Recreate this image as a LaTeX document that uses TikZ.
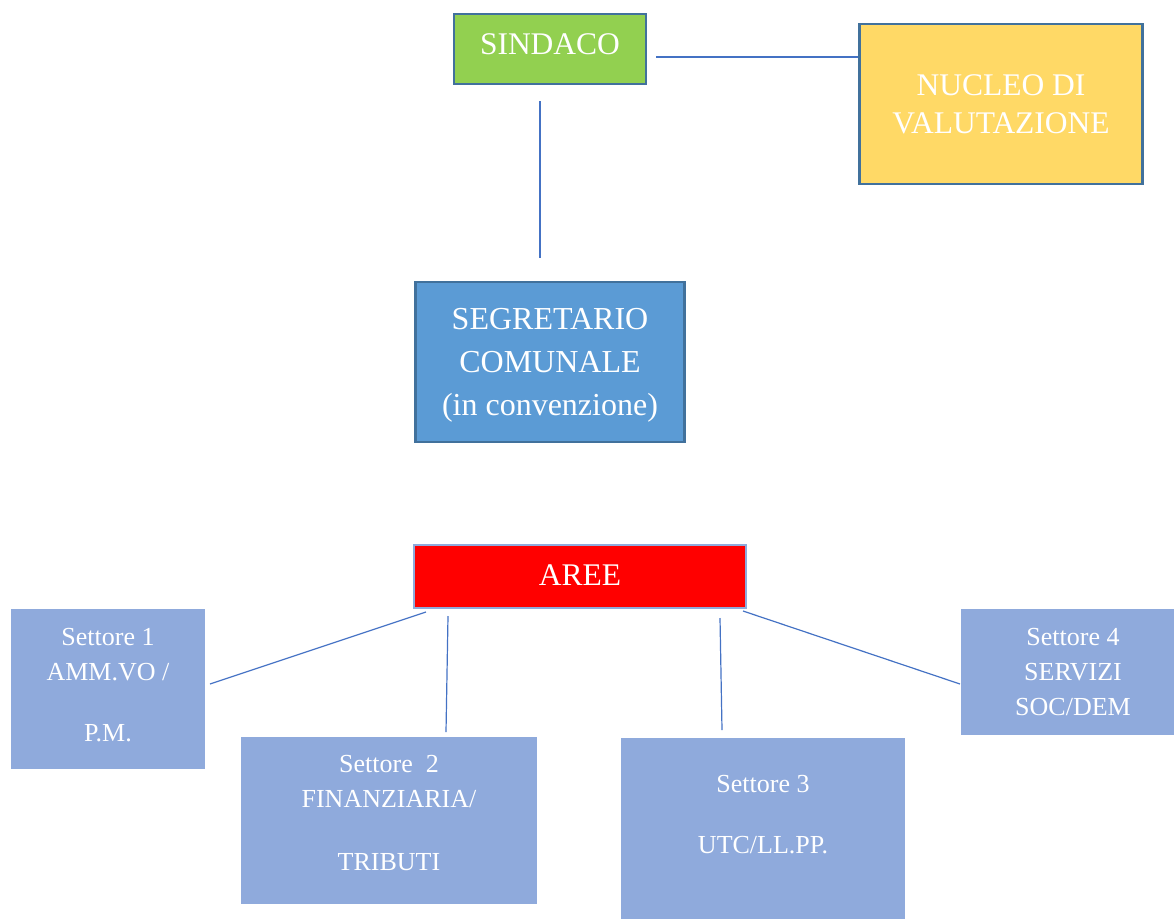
\documentclass[tikz,border=0pt]{standalone}
\usepackage{fontspec}
\setmainfont{Liberation Serif}
\usetikzlibrary{positioning}

\definecolor{bordo}{HTML}{41719C}
\definecolor{verde}{HTML}{92D050}
\definecolor{giallo}{HTML}{FFD966}
\definecolor{azzurro}{HTML}{5B9BD5}
\definecolor{settore}{HTML}{8FAADC}
\definecolor{linea}{HTML}{4472C4}

\tikzset{
  box/.style={rectangle, draw=bordo, line width=2.5pt, text=white, align=center,
    inner sep=0pt, font=\fontsize{31.5}{38}\selectfont},
  sector/.style={rectangle, fill=settore, text=white, align=center,
    inner sep=0pt, font=\fontsize{26}{35}\selectfont},
  link/.style={draw=linea, line width=1.2pt}
}

\begin{document}
\begin{tikzpicture}[x=1pt,y=-1pt]
  \useasboundingbox (0,0) rectangle (1174,918);

  \node[box, fill=verde, minimum width=192, minimum height=70, text depth=9pt] (sindaco) at (550,49) {SINDACO};
  \node[box, fill=giallo, minimum width=283, minimum height=160, text depth=0pt] (nucleo) at (1001,104) {NUCLEO DI\\VALUTAZIONE};
  \node[box, fill=azzurro, minimum width=269, minimum height=160, text depth=0pt,
    font=\fontsize{32}{43}\selectfont] (segretario) at (550,362) {SEGRETARIO\\COMUNALE\\(in convenzione)};
  \node[box, fill=red, draw=settore, minimum width=332, minimum height=63, text depth=2pt] (aree) at (580,576.5) {AREE};

  \node[sector, minimum width=194, minimum height=160, text depth=7.6pt] (s1) at (108,689) {Settore 1\\AMM.VO /\\[26pt]P.M.};
  \node[sector, minimum width=296, minimum height=167, text depth=14.6pt] (s2) at (389,820.5) {Settore~~2\\FINANZIARIA/\\[28pt]TRIBUTI};
  \node[sector, minimum width=284, minimum height=190, text depth=36.6pt] (s3) at (763,833) {Settore 3\\[26pt]UTC/LL.PP.};
  \node[sector, minimum width=224, minimum height=126, text depth=0pt] (s4) at (1073,672) {Settore 4\\SERVIZI\\SOC/DEM};

  \coordinate (sn) at (656,57);
  \coordinate (sv1) at (540,101);
  \coordinate (sv2) at (540,258);
  \coordinate (a1) at (426,612);
  \coordinate (e1) at (210,684);
  \coordinate (a2) at (448,616);
  \coordinate (e2) at (446,732);
  \coordinate (a3) at (720,618);
  \coordinate (e3) at (722,730);
  \coordinate (a4) at (743,611);
  \coordinate (e4) at (960,684);

  \draw[link] (sn) -- (sn -| nucleo.west);
  \draw[link] (sv1) -- (sv2);
  \draw[link] (a1) -- (e1);
  \draw[link] (a2) -- (e2);
  \draw[link] (a3) -- (e3);
  \draw[link] (a4) -- (e4);
\end{tikzpicture}
\end{document}
